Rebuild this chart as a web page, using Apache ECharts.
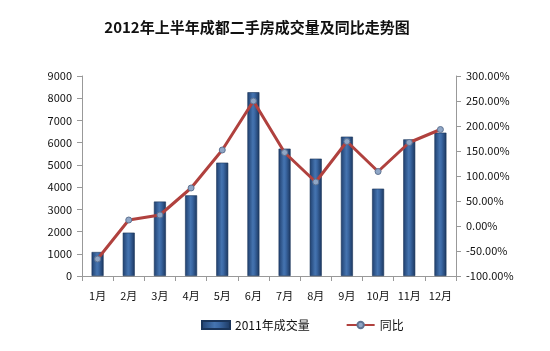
<!DOCTYPE html>
<html><head><meta charset="utf-8">
<script src="https://cdn.jsdelivr.net/npm/echarts@6/dist/echarts.min.js"></script>
<style>html,body{margin:0;padding:0;background:#fff}#c{width:550px;height:351px}</style>
</head><body><div id="c"></div>
<script>
const categories = ['1月','2月','3月','4月','5月','6月','7月','8月','9月','10月','11月','12月'];
const volume2011 = [1080, 1950, 3350, 3630, 5100, 8270, 5730, 5280, 6270, 3930, 6150, 6450];
const yoyPct = [-66, 12, 22, 76, 152, 250, 147, 88, 169, 109, 167, 193];
const leftTicks = {min: 0, max: 9000, interval: 1000};
const rightTicks = {min: -100, max: 300, interval: 50};

const font = '"Noto Sans CJK SC", "Liberation Sans", sans-serif';
const chart = echarts.init(document.getElementById('c'));
chart.setOption({
  animation: false,
  backgroundColor: '#fff',
  title: {
    text: '2012年上半年成都二手房成交量及同比走势图',
    left: 252, top: 15, textAlign: 'center',
    textStyle: {fontSize: 15, fontWeight: 'bold', color: '#111', fontFamily: font}
  },
  legend: {
    top: 314, left: 196, itemGap: 36, itemWidth: 28, itemHeight: 8,
    textStyle: {fontSize: 12, color: '#111', fontFamily: font},
    data: [
      {name: '2011年成交量', icon: 'rect'},
      {name: '同比'}
    ]
  },
  grid: {left: 82, right: 94, top: 76, bottom: 75},
  xAxis: {
    type: 'category', data: categories,
    axisLine: {lineStyle: {color: '#999'}},
    axisTick: {show: true, alignWithLabel: false, length: 5, lineStyle: {color: '#999'}},
    axisLabel: {fontSize: 11, color: '#111', margin: 14, fontFamily: font}
  },
  yAxis: [
    {
      type: 'value', min: leftTicks.min, max: leftTicks.max, interval: leftTicks.interval,
      axisLine: {show: true, lineStyle: {color: '#999'}},
      axisTick: {show: true, length: 5, lineStyle: {color: '#999'}},
      splitLine: {show: false},
      axisLabel: {fontSize: 11, color: '#111', margin: 10, fontFamily: font,
        formatter: v => String(v)}
    },
    {
      type: 'value', min: rightTicks.min, max: rightTicks.max, interval: rightTicks.interval,
      axisLine: {show: true, lineStyle: {color: '#999'}},
      axisTick: {show: true, length: 5, lineStyle: {color: '#999'}},
      splitLine: {show: false},
      axisLabel: {fontSize: 11, color: '#111', margin: 10, fontFamily: font,
        formatter: v => v.toFixed(2) + '%'}
    }
  ],
  series: [
    {
      name: '2011年成交量', type: 'bar', yAxisIndex: 0, data: volume2011,
      barWidth: 12,
      itemStyle: {
        color: new echarts.graphic.LinearGradient(0, 0, 1, 0, [
          {offset: 0, color: '#1F3F6E'},
          {offset: 0.45, color: '#4574B0'},
          {offset: 0.6, color: '#3B68A4'},
          {offset: 1, color: '#1B365E'}
        ]),
        borderColor: '#1A3459', borderWidth: 0.6
      }
    },
    {
      name: '同比', type: 'line', yAxisIndex: 1, data: yoyPct,
      symbol: 'circle', symbolSize: 6,
      lineStyle: {color: '#B0413E', width: 3},
      itemStyle: {color: '#8FA6C6', borderColor: '#5F7392', borderWidth: 1}
    }
  ]
});
</script></body></html>
